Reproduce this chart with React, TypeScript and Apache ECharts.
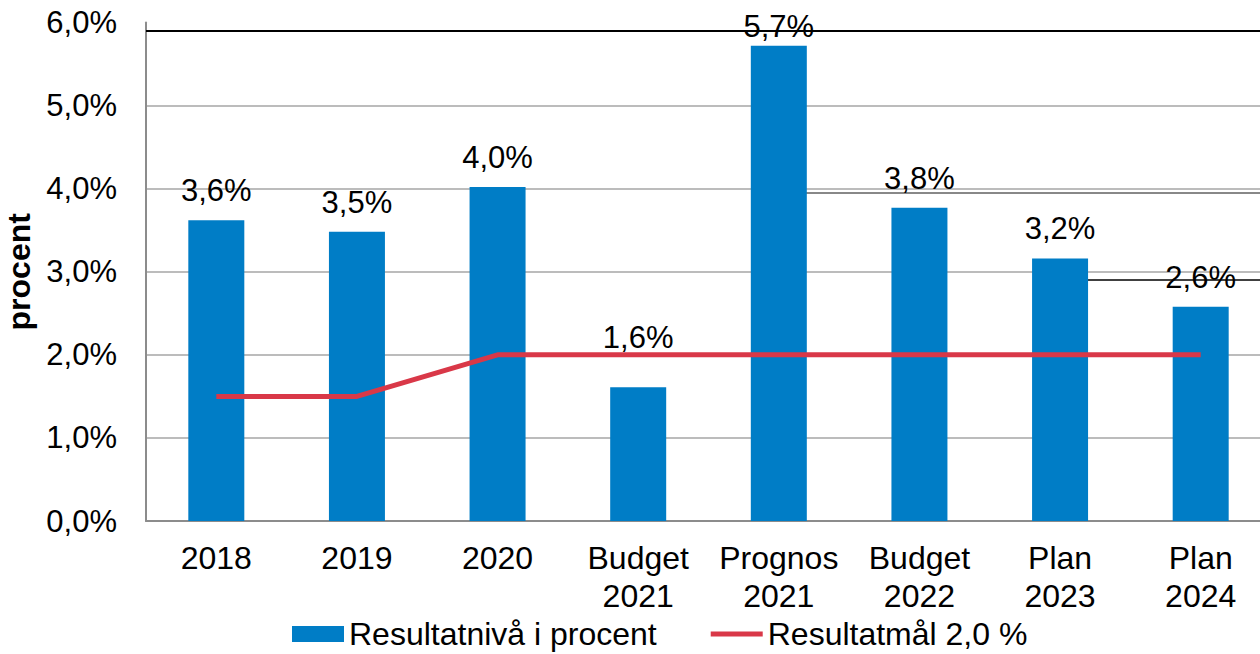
import React, { useEffect, useRef } from "react";
import * as echarts from "echarts";

const categories = ["2018", "2019", "2020", "Budget\n2021", "Prognos\n2021", "Budget\n2022", "Plan\n2023", "Plan\n2024"];
const resultValues = [3.62, 3.48, 4.02, 1.61, 5.72, 3.77, 3.16, 2.58];
const targetValues = [1.5, 1.5, 2.0, 2.0, 2.0, 2.0, 2.0, 2.0];
const labelOffsets = [0, 0, 0, -20, 10, 0, 0, 0];
const yTicks = { min: 0, max: 6, interval: 1 };
const seriesNames = ["Resultatnivå i procent", "Resultatmål 2,0 %"];

const FONT = "'Liberation Sans', Arial, sans-serif";
const fmt = (v: number) => v.toFixed(1).replace(".", ",") + "%";
const GRID = "#a6a6a6";

export default function App() {
  const ref = useRef<HTMLDivElement>(null);
  useEffect(() => {
    document.body.style.margin = "0";
    const chart = echarts.init(ref.current!, null, { renderer: "svg" });
    chart.setOption({
      animation: false,
      backgroundColor: "#ffffff",
      textStyle: { fontFamily: FONT },
      grid: { left: 146, top: 22.5, width: 1125, height: 498.5, containLabel: false, outerBoundsMode: "none" },
      legend: {
        left: 292,
        top: 618,
        padding: 0,
        itemWidth: 52,
        itemHeight: 16,
        itemGap: 54,
        textStyle: { fontSize: 32, color: "#000", fontFamily: FONT, lineHeight: 32 },
        data: [
          { name: seriesNames[0], icon: "rect" },
          { name: seriesNames[1], icon: "path://M0,0H52V5H0Z" },
        ],
      },
      xAxis: {
        type: "category",
        data: categories,
        axisLine: { show: true, lineStyle: { color: "#8c8c8c", width: 2 } },
        axisTick: { show: false },
        axisLabel: { color: "#000", fontSize: 32, fontFamily: FONT, margin: 18, lineHeight: 38, interval: 0 },
      },
      yAxis: {
        type: "value",
        min: yTicks.min,
        max: yTicks.max,
        interval: yTicks.interval,
        name: "procent",
        nameLocation: "middle",
        nameGap: 111,
        nameRotate: 90,
        nameTextStyle: { fontSize: 32, fontWeight: "bold", color: "#000", fontFamily: FONT },
        axisLine: { show: true, lineStyle: { color: "#8c8c8c", width: 2 } },
        axisTick: { show: false },
        axisLabel: { color: "#000", fontSize: 31, fontFamily: FONT, margin: 29, formatter: (v: number) => fmt(v) },
        splitLine: {
          show: true,
          lineStyle: { color: [GRID, GRID, GRID, GRID, GRID, GRID, "rgba(0,0,0,0)"], width: 1.5 },
        },
      },
      series: [
        {
          name: seriesNames[0],
          type: "bar",
          barWidth: 56,
          itemStyle: { color: "#007dc6" },
          data: resultValues.map((v, i) => ({
            value: v,
            label: { offset: [0, labelOffsets[i]] },
          })),
          label: {
            show: true,
            position: "top",
            distance: 14,
            fontSize: 31,
            lineHeight: 31,
            color: "#000",
            fontFamily: FONT,
            formatter: (p: any) => fmt(p.value),
          },
          z: 2,
        },
        {
          name: seriesNames[1],
          type: "line",
          data: targetValues,
          symbol: "none",
          showSymbol: false,
          lineStyle: { color: "#d93848", width: 5 },
          itemStyle: { color: "#d93848" },
          z: 3,
        },
      ],
      graphic: [
        { type: "line", shape: { x1: 146, y1: 31, x2: 1260, y2: 31 }, style: { stroke: "#000", lineWidth: 2 }, z: 1 },
        { type: "line", shape: { x1: 806, y1: 193, x2: 1260, y2: 193 }, style: { stroke: "#888", lineWidth: 2 }, z: 1 },
        { type: "line", shape: { x1: 1086, y1: 280, x2: 1260, y2: 280 }, style: { stroke: "#000", lineWidth: 1.5 }, z: 1 },
      ],
    });
    return () => chart.dispose();
  }, []);
  return <div ref={ref} style={{ width: 1260, height: 654 }} />;
}
